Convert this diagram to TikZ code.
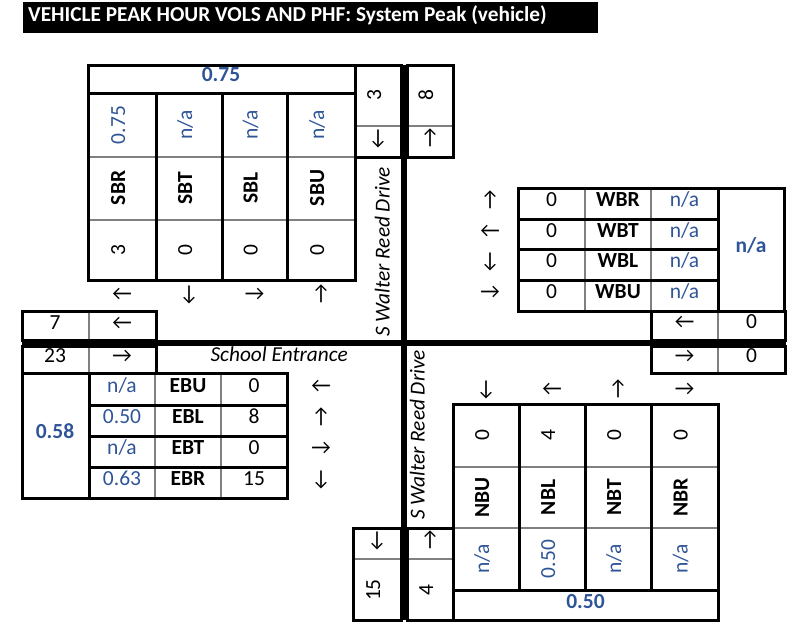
\documentclass[tikz,border=0pt]{standalone}
\usepackage{fontspec}
\setmainfont{Carlito}
\definecolor{pblue}{RGB}{47,85,151}
\definecolor{lgrey}{RGB}{128,128,128}
\begin{document}
\begin{tikzpicture}[x=1pt,y=-1pt,
  blk/.style={line width=3pt, draw=black},
  gry/.style={line width=2pt, draw=lgrey},
  road/.style={line width=6pt, draw=black},
  txt/.style={inner sep=0pt, font=\fontsize{21.5}{21.5}\selectfont, text height=0.64em, text depth=0pt},
  val/.style={txt, text=pblue},
  hd/.style={txt, font=\fontsize{21.5}{21.5}\selectfont\bfseries},
  tot/.style={txt, text=pblue, font=\fontsize{21.5}{21.5}\selectfont\bfseries},
  street/.style={txt, font=\fontsize{21.3}{21.3}\selectfont\itshape},
  vert/.style={rotate=90}]
\useasboundingbox (0,0) rectangle (798,625);
% title
\fill[black] (23,2) rectangle (598,33);
\node[anchor=west, text=white, inner sep=0pt, font=\fontsize{21.3}{21.3}\selectfont\bfseries, text height=0.64em, text depth=0pt] (title) at (28,18) {VEHICLE PEAK HOUR VOLS AND PHF: System Peak (vehicle)};
% ---------- grey lines
\draw[gry] (88,157) -- (355,157) (88,220) -- (355,220);
\draw[gry] (355,126) -- (401,126) (407,126) -- (453,126);
\draw[gry] (89,311) -- (89,340) (89,346) -- (89,373);
\draw[gry] (155,373) -- (155,498) (221,373) -- (221,498);
\draw[gry] (585,188) -- (585,311) (651,188) -- (651,311);
\draw[gry] (718,311) -- (718,340) (718,346) -- (718,373);
\draw[gry] (453,467) -- (718,467) (453,528) -- (718,528);
\draw[gry] (353,559) -- (401,559) (407,559) -- (453,559);
% ---------- black borders
\draw[blk] (88,65) rectangle (355,280);
\draw[blk] (88,93) -- (355,93) (156,93) -- (156,280) (222,93) -- (222,280) (287,93) -- (287,280);
\draw[blk] (355,65) rectangle (401,157) (407,65) rectangle (453,157);
\draw[blk] (22,311) rectangle (156,340) (22,346) rectangle (156,373);
\draw[blk] (22,373) rectangle (287,498) (89,373) -- (89,498);
\draw[blk] (89,405) -- (287,405) (89,436) -- (287,436) (89,467) -- (287,467);
\draw[blk] (518,188) rectangle (784,311) (718,188) -- (718,311);
\draw[blk] (518,219) -- (718,219) (518,249) -- (718,249) (518,280) -- (718,280);
\draw[blk] (651,311) rectangle (785,340) (651,346) rectangle (785,373);
\draw[blk] (453,404) rectangle (718,620);
\draw[blk] (519,404) -- (519,590) (585,404) -- (585,590) (651,404) -- (651,590) (453,590) -- (718,590);
\draw[blk] (353,528) rectangle (401,620) (407,528) rectangle (453,620);
% ---------- road
\draw[road] (404,65) -- (404,620);
\draw[road] (22,343) -- (786,343);
% ---------- SB
\node[tot] (sbphf) at (221,78) {0.75};
\node[val,vert] (sbrp) at (122,125) {0.75};
\node[val,vert] (sbtp) at (189,125) {n/a};
\node[val,vert] (sblp) at (254.5,125) {n/a};
\node[val,vert] (sbup) at (321,125) {n/a};
\node[hd,vert] (sbr) at (122,188) {SBR};
\node[hd,vert] (sbt) at (189,188) {SBT};
\node[hd,vert] (sbl) at (254.5,188) {SBL};
\node[hd,vert] (sbu) at (321,188) {SBU};
\node[txt,vert] (sbrv) at (122,250) {3};
\node[txt,vert] (sbtv) at (189,250) {0};
\node[txt,vert] (sblv) at (254.5,250) {0};
\node[txt,vert] (sbuv) at (321,250) {0};
\node[txt] (sbra) at (122,297) {←};
\node[txt] (sbta) at (189,297) {↓};
\node[txt] (sbla) at (254.5,297) {→};
\node[txt] (sbua) at (321,297) {↑};
\node[txt,vert] (sbin) at (378,95) {3};
\node[txt] (sbina) at (378,141) {↓};
\node[txt,vert] (sbout) at (430,95) {8};
\node[txt] (sbouta) at (430,141) {↑};
\node[street,vert] (st1) at (386.5,252) {S Walter Reed Drive};
% ---------- EB side
\node[txt] (ebout) at (55,326) {7};
\node[txt] (ebouta) at (122,326) {←};
\node[txt] (ebin) at (55,359.5) {23};
\node[txt] (ebina) at (122,359.5) {→};
\node[street, anchor=east] (st2) at (348,358) {School Entrance};
\node[tot] (ebphf) at (55,435.5) {0.58};
\node[val] (ebup) at (122,389) {n/a};
\node[hd] (ebu) at (188,389) {EBU};
\node[txt] (ebuv) at (254,389) {0};
\node[txt] (ebua) at (321,389) {←};
\node[val] (eblp) at (122,420.5) {0.50};
\node[hd] (ebl) at (188,420.5) {EBL};
\node[txt] (eblv) at (254,420.5) {8};
\node[txt] (ebla) at (321,420.5) {↑};
\node[val] (ebtp) at (122,451.5) {n/a};
\node[hd] (ebt) at (188,451.5) {EBT};
\node[txt] (ebtv) at (254,451.5) {0};
\node[txt] (ebta) at (321,451.5) {→};
\node[val] (ebrp) at (122,482.5) {0.63};
\node[hd] (ebr) at (188,482.5) {EBR};
\node[txt] (ebrv) at (254,482.5) {15};
\node[txt] (ebra) at (321,482.5) {↓};
% ---------- WB
\node[txt] (wbra) at (490,203.5) {↑};
\node[txt] (wbrv) at (551.5,203.5) {0};
\node[hd] (wbr) at (618,203.5) {WBR};
\node[val] (wbrp) at (684.5,203.5) {n/a};
\node[txt] (wbta) at (490,234) {←};
\node[txt] (wbtv) at (551.5,234) {0};
\node[hd] (wbt) at (618,234) {WBT};
\node[val] (wbtp) at (684.5,234) {n/a};
\node[txt] (wbla) at (490,264.5) {↓};
\node[txt] (wblv) at (551.5,264.5) {0};
\node[hd] (wbl) at (618,264.5) {WBL};
\node[val] (wblp) at (684.5,264.5) {n/a};
\node[txt] (wbua) at (490,295.5) {→};
\node[txt] (wbuv) at (551.5,295.5) {0};
\node[hd] (wbu) at (618,295.5) {WBU};
\node[val] (wbup) at (684.5,295.5) {n/a};
\node[tot] (wbphf) at (751,249.5) {n/a};
\node[txt] (wbina) at (684.5,325.5) {←};
\node[txt] (wbin) at (751.5,325.5) {0};
\node[txt] (wbouta) at (684.5,359.5) {→};
\node[txt] (wbout) at (751.5,359.5) {0};
% ---------- NB
\node[txt] (nbua) at (486,392) {↓};
\node[txt] (nbla) at (552,392) {←};
\node[txt] (nbta) at (618,392) {↑};
\node[txt] (nbra) at (684.5,392) {→};
\node[txt,vert] (nbuv) at (486,435.5) {0};
\node[txt,vert] (nblv) at (552,435.5) {4};
\node[txt,vert] (nbtv) at (618,435.5) {0};
\node[txt,vert] (nbrv) at (684.5,435.5) {0};
\node[hd,vert] (nbu) at (486,497.5) {NBU};
\node[hd,vert] (nbl) at (552,497.5) {NBL};
\node[hd,vert] (nbt) at (618,497.5) {NBT};
\node[hd,vert] (nbr) at (684.5,497.5) {NBR};
\node[val,vert] (nbup) at (486,559) {n/a};
\node[val,vert] (nblp) at (552,559) {0.50};
\node[val,vert] (nbtp) at (618,559) {n/a};
\node[val,vert] (nbrp) at (684.5,559) {n/a};
\node[tot] (nbphf) at (585.5,605) {0.50};
\node[txt] (nbouta) at (377,543.5) {↓};
\node[txt,vert] (nbout) at (377,590) {15};
\node[txt] (nbina) at (430,543.5) {↑};
\node[txt,vert] (nbin) at (430,590) {4};
\node[street,vert] (st3) at (421.5,435) {S Walter Reed Drive};
\end{tikzpicture}
\end{document}
